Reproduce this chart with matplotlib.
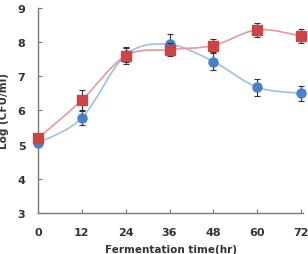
import numpy as np
import matplotlib.pyplot as plt
from matplotlib.path import Path
from matplotlib.patches import PathPatch

hours = [0, 12, 24, 36, 48, 60, 72]
blue_vals = [5.05, 5.78, 7.62, 7.93, 7.43, 6.68, 6.5]
blue_err = [0.1, 0.2, 0.2, 0.3, 0.25, 0.25, 0.22]
red_vals = [5.18, 6.3, 7.6, 7.78, 7.9, 8.36, 8.18]
red_err = [0.1, 0.3, 0.25, 0.2, 0.2, 0.2, 0.2]
xticks = [0, 12, 24, 36, 48, 60, 72]
yticks = [3, 4, 5, 6, 7, 8, 9]


def smooth_path(x, y, k=1 / 6):
    # excel-like smoothed line: catmull-rom segments as cubic beziers
    x = np.asarray(x, float)
    y = np.asarray(y, float)
    n = len(x)
    verts = [(x[0], y[0])]
    codes = [Path.MOVETO]
    for i in range(n - 1):
        a = max(i - 1, 0)
        b = min(i + 2, n - 1)
        c1 = (x[i] + (x[i + 1] - x[a]) * k, y[i] + (y[i + 1] - y[a]) * k)
        c2 = (x[i + 1] - (x[b] - x[i]) * k, y[i + 1] - (y[b] - y[i]) * k)
        verts += [c1, c2, (x[i + 1], y[i + 1])]
        codes += [Path.CURVE4] * 3
    return Path(verts, codes)


plt.rcParams['font.family'] = ['DejaVu Sans']
fig = plt.figure(figsize=(3.08, 2.55), dpi=100)
ax = fig.add_axes([0.123, 0.161, 0.862, 0.804])

txt = '#333333'
blue_line = '#9ec0e4'
red_line = '#e39a9a'
blue_mk = '#4a7fce'
red_mk = '#cc4444'

ax.add_patch(PathPatch(smooth_path(hours, blue_vals), fc='none', ec=blue_line, lw=1.2, zorder=2))
ax.add_patch(PathPatch(smooth_path(hours, red_vals), fc='none', ec=red_line, lw=1.2, zorder=2))

ax.errorbar(hours, blue_vals, yerr=blue_err, fmt='o', color=blue_mk, ms=6.5,
            ecolor='#333333', elinewidth=0.8, capsize=2.5, capthick=0.8, zorder=4, clip_on=False)
ax.errorbar(hours, red_vals, yerr=red_err, fmt='s', color=red_mk, ms=6.5,
            ecolor='#333333', elinewidth=0.8, capsize=2.5, capthick=0.8, zorder=5, clip_on=False)

ax.set_xlim(0, 72.6)
ax.set_ylim(3, 9)
ax.set_xticks(xticks)
ax.set_yticks(yticks)
for s in ['top', 'right']:
    ax.spines[s].set_visible(False)
for s in ['left', 'bottom']:
    ax.spines[s].set_color('#777777')
    ax.spines[s].set_linewidth(1.0)
ax.tick_params(direction='in', length=3, color='#777777', labelsize=8, labelcolor=txt)
ax.tick_params(axis='x', pad=10)
ax.tick_params(axis='y', pad=9)
for lab in ax.get_xticklabels() + ax.get_yticklabels():
    lab.set_fontweight('bold')
ax.set_xlabel('Fermentation time(hr)', fontsize=7.5, fontweight='bold', color=txt, labelpad=5)
ax.set_ylabel('Log (CFU/ml)', fontsize=7.5, fontweight='bold', color=txt, labelpad=6)

fig.savefig('out.png', dpi=100)
